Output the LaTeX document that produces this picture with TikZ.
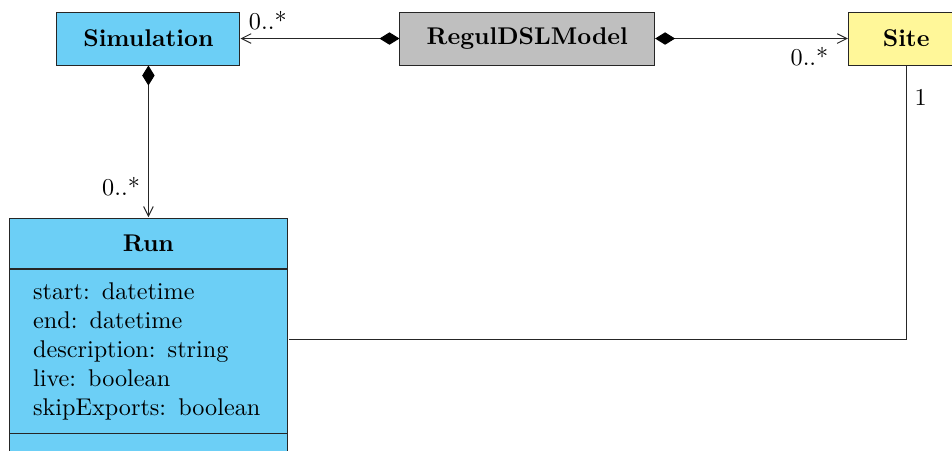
\documentclass[tikz,border=0pt]{standalone}
\usetikzlibrary{positioning,arrows.meta,fit}
\definecolor{classblue}{RGB}{108,207,246}
\definecolor{modelgray}{RGB}{191,191,191}
\definecolor{siteyellow}{RGB}{255,247,153}
\tikzset{
  cls/.style={draw=black!85,font=\bfseries,minimum height=0.77cm,inner sep=3pt},
  part/.style={draw=black!85,fill=classblue,minimum width=4.05cm,inner sep=0pt},
  comp/.style={{Diamond[length=2.9mm,width=1.8mm,black]}-{Straight Barb[length=1.4mm,width=1.4mm]},draw=black!85},
  assoc/.style={draw=black!85}
}

\begin{document}
\begin{tikzpicture}
  \path[use as bounding box,clip] (0,0) rectangle (13.83,6.55);
  % classes on top row
  \node[cls,fill=classblue,minimum width=2.66cm] (simulation) at (2.156,5.99) {Simulation};
  \node[cls,fill=modelgray,minimum width=3.70cm,right=2.31cm of simulation] (regul) {RegulDSLModel};
  \node[cls,fill=siteyellow,minimum width=1.68cm,right=2.80cm of regul] (site) {Site};
  % Run class with its compartments
  \node[part,minimum height=0.726cm,font=\bfseries,below=2.21cm of simulation] (runtitle) {Run};
  \node[part,minimum height=2.381cm,below=0pt of runtitle,align=left,text width=3.35cm,inner xsep=0.35cm] (runattr)
    {start: datetime\\end: datetime\\description: string\\live: boolean\\skipExports: boolean};
  \node[part,minimum height=0.378cm,below=0pt of runattr] (runops) {};
  \node[fit=(runtitle)(runattr)(runops),inner sep=0pt] (run) {};
  % relations
  \draw[comp] (regul) -- (simulation) node[pos=1,above right] {0..*};
  \draw[comp] (regul) -- (site) node[pos=1,below left,xshift=-0.16cm] {0..*};
  \draw[comp] (simulation) -- (run.north) node[pos=1,above left,yshift=0.19cm] {0..*};
  \draw[assoc] (site.south) |- (run.east) node[pos=0,below right,yshift=-0.22cm] {1};
\end{tikzpicture}
\end{document}
